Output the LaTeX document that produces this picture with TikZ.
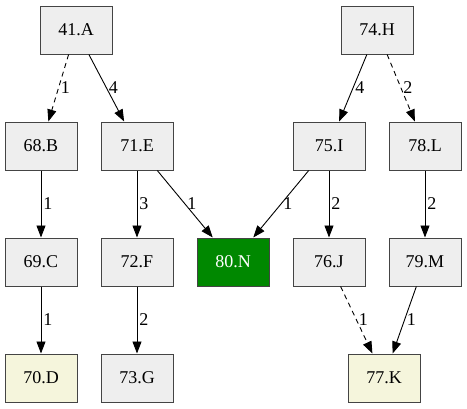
\documentclass[tikz,border=0pt]{standalone}
\usepackage{fontspec}
\setmainfont{Liberation Serif}
\usepackage{tikz}
\usetikzlibrary{arrows.meta}
\definecolor{boxgray}{HTML}{EEEEEE}
\definecolor{boxbeige}{HTML}{F5F5DC}
\definecolor{boxgreen}{HTML}{008800}
\definecolor{boxline}{HTML}{444444}

\begin{document}
\begin{tikzpicture}[x=1pt,y=-1pt]
\tikzset{box/.style={draw=boxline,fill=boxgray,line width=1pt,minimum width=72pt,minimum height=48pt,inner sep=0pt,font=\fontsize{18}{21}\selectfont},
leaf/.style={box,fill=boxbeige},
hit/.style={box,fill=boxgreen,text=white},
edge/.style={line width=0.9pt,-{Triangle[length=12pt,width=9pt]}},
dashedge/.style={edge,dash pattern=on 5pt off 4pt},
lbl/.style={right,inner sep=2pt,font=\fontsize{18}{21}\selectfont}}
\useasboundingbox (0,0) rectangle (467,408);

\node[box] (a) at (76,30) {41.A};
\node[box] (h) at (377,30) {74.H};
\node[box] (b) at (41,146) {68.B};
\node[box] (e) at (137,146) {71.E};
\node[box] (i) at (329,146) {75.I};
\node[box] (l) at (425,146) {78.L};
\node[box] (c) at (41,262) {69.C};
\node[box] (f) at (137,262) {72.F};
\node[hit] (n) at (233,262) {80.N};
\node[box] (j) at (329,262) {76.J};
\node[box] (m) at (425,262) {79.M};
\node[leaf] (d) at (41,378) {70.D};
\node[box] (g) at (137,378) {73.G};
\node[leaf] (k) at (384,378) {77.K};

\draw[dashedge] (a) -- node[lbl]{1} (b);
\draw[edge] (a) -- node[lbl]{4} (e);
\draw[edge] (h) -- node[lbl]{4} (i);
\draw[dashedge] (h) -- node[lbl]{2} (l);
\draw[edge] (b) -- node[lbl]{1} (c);
\draw[edge] (e) -- node[lbl]{3} (f);
\draw[edge] (e) -- node[lbl]{1} (n);
\draw[edge] (i) -- node[lbl]{1} (n);
\draw[edge] (i) -- node[lbl]{2} (j);
\draw[edge] (l) -- node[lbl]{2} (m);
\draw[edge] (c) -- node[lbl]{1} (d);
\draw[edge] (f) -- node[lbl]{2} (g);
\draw[dashedge] (j) -- node[lbl]{1} (k);
\draw[edge] (m) -- node[lbl]{1} (k);

\end{tikzpicture}
\end{document}
